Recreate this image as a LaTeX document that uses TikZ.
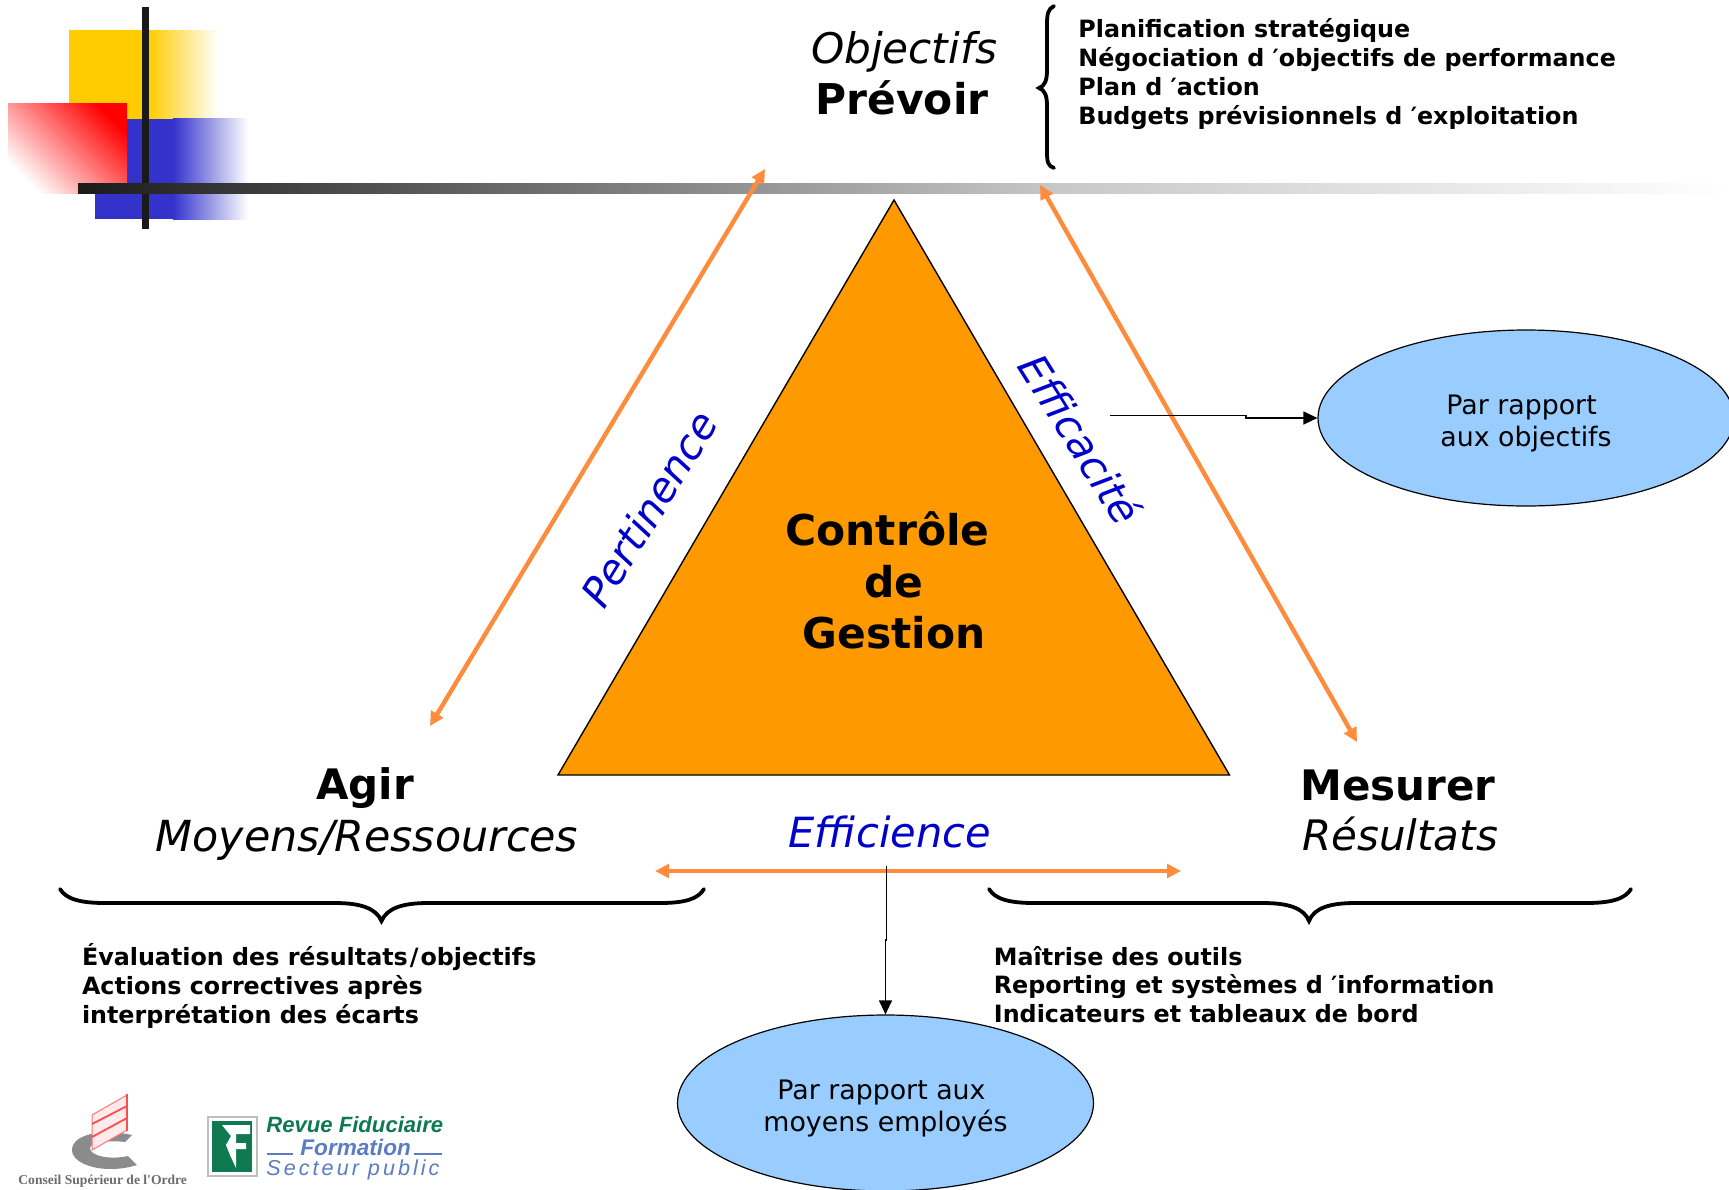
\documentclass[tikz,border=0pt]{standalone}
\usepackage{fontspec}
\setmainfont{DejaVu Sans}
\newfontfamily\logofont{Liberation Sans}
\newfontfamily\ordrefont{Liberation Serif}
\usetikzlibrary{arrows.meta,shapes.geometric}
\definecolor{orangeA}{HTML}{FF8C3C}
\definecolor{triA}{HTML}{FF9900}
\definecolor{bleuE}{HTML}{99CCFF}
\definecolor{bleuT}{HTML}{0000CC}
\definecolor{yel}{HTML}{FFCC00}
\definecolor{blu}{HTML}{3333CC}
\definecolor{bar}{HTML}{1A1A1A}
\definecolor{barB}{HTML}{444444}
\definecolor{barC}{HTML}{999999}
\definecolor{barD}{HTML}{C8C8C8}
\definecolor{rfgreen}{HTML}{0F7A52}
\definecolor{rfblue}{HTML}{5A7CC4}
\tikzset{
  x=0.5pt,y=-0.5pt,
  oarrow/.style={draw=orangeA,line width=2.2pt,{Triangle[length=7pt,width=6.8pt]}-{Triangle[length=7pt,width=6.8pt]}},
  barrow/.style={draw=black,line width=0.6pt,-{Triangle[length=7pt,width=6.5pt]}},
  brace/.style={draw=black,line width=1.9pt,line cap=round},
  ell/.style={ellipse,draw=black,line width=0.6pt,fill=bleuE,minimum width=208pt,minimum height=88pt,inner sep=0pt,font=\fontsize{13.4pt}{15.9pt}\selectfont,align=center},
  listt/.style={anchor=north west,inner sep=0pt,align=left,font=\fontsize{11.9pt}{14.35pt}\selectfont\bfseries},
  headb/.style={inner sep=0pt,font=\fontsize{21pt}{25pt}\selectfont\bfseries},
  headi/.style={inner sep=0pt,font=\fontsize{21pt}{25pt}\selectfont\itshape},
  bluet/.style={inner sep=0pt,text=bleuT,font=\fontsize{20.8pt}{24pt}\selectfont\itshape},
}
\begin{document}
\begin{tikzpicture}
\useasboundingbox (0,0) rectangle (1729,1189);
% decoration
\fill[yel] (69,30) rectangle (150,119);
\shade[left color=yel,right color=white] (149,30) rectangle (218,119);
\fill[blu] (95,119) rectangle (174,219);
\shade[left color=blu,right color=white] (173,118) rectangle (248,219);
\shade[left color=white,middle color=red!38!white,right color=red,shading angle=135] (8,103) rectangle (127,193);
\fill[bar] (142,7) rectangle (149,229);
\shade[left color=bar,right color=barB] (78,183) rectangle (301,193);
\shade[left color=barB,right color=barC] (300,183) rectangle (781,193);
\shade[left color=barC,right color=barD] (780,183) rectangle (1061,193);
\shade[left color=barD,right color=white] (1060,183) rectangle (1729,193);
% triangle
\draw[fill=triA,draw=black,line width=0.7pt,line join=miter] (894,200) -- (1229.5,775) -- (558,775) -- cycle;
% orange arrows
\coordinate (p1) at (765,169); \coordinate (p2) at (430,726);
\coordinate (q1) at (1040,185); \coordinate (q2) at (1357,742);
\coordinate (r1) at (655,871); \coordinate (r2) at (1181,871);
\draw[oarrow] (p1) -- (p2);
\draw[oarrow] (q1) -- (q2);
\draw[oarrow] (r1) -- (r2);
% ellipses
\node[ell] (e1) at (1526,418) {\rule{0pt}{15.5pt}Par rapport\hspace*{4.4pt}\\aux objectifs};
\node[ell] (e2) at (885.5,1103) {\rule{0pt}{15.5pt}Par rapport aux\hspace*{4pt}\\moyens employés};
% black connectors
\coordinate (a1) at (1110,415.7);
\coordinate (a2) at (1246,415.7);
\coordinate (a3) at (1246,418);
\draw[barrow] (a1) -- (a2) -- (a3) -- (e1.west);
\coordinate (b1) at (886.5,866);
\coordinate (b2) at (886.5,940);
\coordinate (b3) at (885.5,940);
\draw[barrow] (b1) -- (b2) -- (b3) -- (e2.north);
% braces
\draw[brace] (1054,6) .. controls (1048,9) and (1047,14) .. (1047,24) -- (1047,70) .. controls (1047,80) and (1045,86) .. (1039,88) .. controls (1045,90) and (1047,96) .. (1047,106) -- (1047,152) .. controls (1047,162) and (1048,166) .. (1054,168);
\draw[brace] (60,889) .. controls (66,899) and (80,903) .. (105,903) -- (335,903) .. controls (360,903) and (376,908) .. (381.5,921) .. controls (387,908) and (403,903) .. (428,903) -- (660,903) .. controls (685,903) and (698,899) .. (704,889);
\draw[brace] (989,889) .. controls (995,899) and (1009,903) .. (1034,903) -- (1263,903) .. controls (1288,903) and (1304,908) .. (1309,921) .. controls (1314,908) and (1330,903) .. (1355,903) -- (1586,903) .. controls (1611,903) and (1625,899) .. (1631,889);
% titles
\node[headi,font=\fontsize{21.1pt}{25pt}\selectfont\itshape] (obj) at (904,52) {Objectifs};
\node[headb,font=\fontsize{21.2pt}{25pt}\selectfont\bfseries] (prev) at (902,98) {Prévoir};
\node[listt] (l1) at (1078,18.5) {Planification stratégique\\Négociation d ′objectifs de performance\\Plan d ′action\\Budgets prévisionnels d ′exploitation};
\node[headb] (agir) at (365,788.3) {Agir};
\node[headi,font=\fontsize{21.4pt}{25pt}\selectfont\itshape] (moy) at (367,840.4) {Moyens/Ressources};
\node[headb] (mes) at (1398,785) {Mesurer};
\node[headi] (res) at (1400,834) {Résultats};
\node[listt] (l2) at (81.6,943.5) {Évaluation des résultats\kern1pt/\kern1pt objectifs\\Actions correctives après\\interprétation des écarts};
\node[listt] (l3) at (993.5,945.7) {Maîtrise des outils\\Reporting et systèmes d ′information\\Indicateurs et tableaux de bord};
\node[inner sep=0pt,align=center,font=\fontsize{21.2pt}{25.7pt}\selectfont\bfseries] (cg) at (894,580.5) {Contrôle\hspace*{6.6pt}\\de\\Gestion};
\node[bluet] (eff) at (890,832) {Efficience};
\node[bluet,rotate=58.5,font=\fontsize{20.6pt}{23pt}\selectfont\itshape] (per) at (649,509) {Pertinence};
\node[bluet,rotate=-58,font=\fontsize{20.6pt}{23pt}\selectfont\itshape] (efc) at (1081,439) {Efficacité};
% logo CSO
\fill[gray!70!black!70] (132,1135) .. controls (100,1128) and (72,1135) .. (72,1150) .. controls (72,1165) and (105,1175) .. (137,1165) -- (128,1156) .. controls (110,1160) and (90,1156) .. (90,1148) .. controls (90,1142) and (110,1140) .. (125,1142) -- cycle;
\draw[red!55!white,fill=red!8,line width=0.5pt] (92,1115) -- (127,1095) -- (127,1130) -- (92,1150) -- cycle;
\draw[red!70!white,line width=0.9pt] (92,1124) -- (127,1106) (92,1137) -- (127,1118) (127,1094) -- (127,1131);
\node[inner sep=0pt,anchor=base west,text=gray!85!black,font=\ordrefont\fontsize{6.8pt}{10pt}\selectfont\bfseries] (ordre) at (18,1184) {Conseil Supérieur de l'Ordre};
% logo RF
\draw[draw=gray!50,fill=white,line width=0.8pt] (208,1117) rectangle (257,1176);
\fill[rfgreen] (212,1121) rectangle (252,1172);
\fill[white] (222,1125) -- (250,1125) -- (250,1134) -- (236,1134) -- (236,1143) -- (246,1143) -- (246,1149) -- (236,1149) -- (236,1168) -- (230,1155) -- (226,1145) -- (231,1136) -- (226,1130) -- cycle;
\node[inner sep=0pt,anchor=base west,text=rfgreen,font=\logofont\fontsize{11.05pt}{14pt}\selectfont\bfseries\itshape] (rf1) at (266,1132) {Revue Fiduciaire};
\node[inner sep=0pt,anchor=base west,text=rfblue,font=\logofont\fontsize{11.3pt}{14pt}\selectfont\itshape\bfseries] (rf2) at (300,1155) {Formation};
\coordinate (c1) at (267,1154); \coordinate (c2) at (293,1154); \coordinate (c3) at (414,1154); \coordinate (c4) at (442,1154);
\draw[rfblue,line width=0.7pt] (c1) -- (c2) (c3) -- (c4);
\node[inner sep=0pt,anchor=base west,text=rfblue,font=\logofont\fontsize{10.8pt}{14pt}\selectfont\itshape\addfontfeature{LetterSpace=14}] (rf3) at (266,1175) {Secteur public};
\end{tikzpicture}
\end{document}
